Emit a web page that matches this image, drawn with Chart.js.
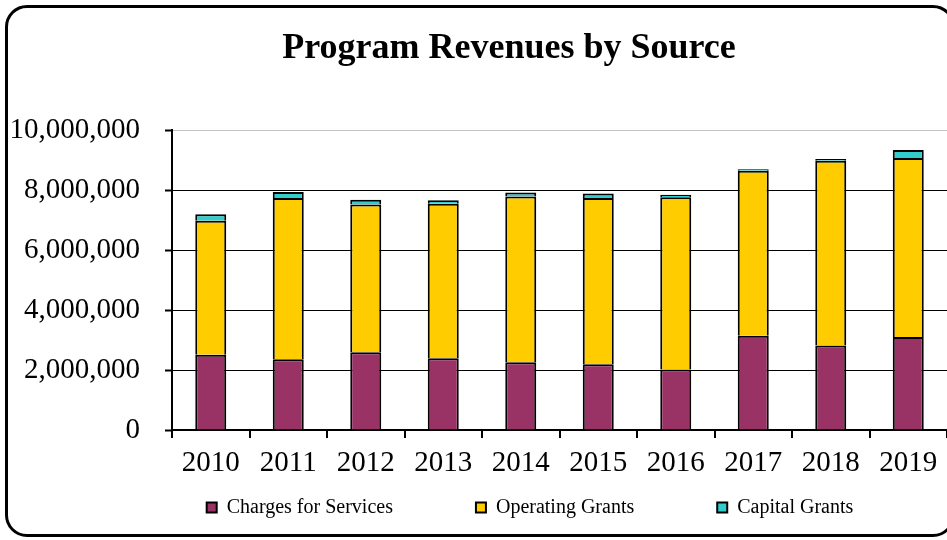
<!DOCTYPE html>
<html>
<head>
<meta charset="utf-8">
<script src="https://cdn.jsdelivr.net/npm/chart.js@4/dist/chart.umd.min.js"></script>
<style>
  html, body { margin:0; padding:0; background:#fff; overflow:hidden; width:947px; height:540px; }
  #frame { position:absolute; left:5px; top:5px; width:950px; height:532px; box-sizing:border-box;
           border:3px solid #000; border-radius:22px; }
  #wrap { position:absolute; left:0; top:0; width:947px; height:540px; }
</style>
</head>
<body>
<div id="frame"></div>
<div id="wrap"><canvas id="c"></canvas></div>
<script>
const years = ['2010','2011','2012','2013','2014','2015','2016','2017','2018','2019'];
const chargesForServices = [2510000, 2360000, 2590000, 2390000, 2260000, 2190000, 2020000, 3140000, 2820000, 3100000];
const operatingGrants    = [4470000, 5380000, 4930000, 5160000, 5530000, 5550000, 5740000, 5510000, 6160000, 5970000];
const capitalGrants      = [ 220000,  200000,  160000,  110000,  130000,  150000,   90000,   50000,   60000,  270000];
const yTicks = [0, 2000000, 4000000, 6000000, 8000000, 10000000];
const seriesNames = ['Charges for Services', 'Operating Grants', 'Capital Grants'];
const chartTitle = 'Program Revenues by Source';

const SERIF = "'Liberation Serif', 'Times New Roman', serif";
Chart.defaults.color = '#000';
Chart.defaults.font.family = SERIF;

const TITLE_CX = 509;
const LEG_CX = 530;
const LEG_TEXT_Y = 507.5;
const LEG_PAD = 83;

const shiftPlugin = {
  id: 'shiftBlocks',
  afterLayout(chart) {
    const t = chart.titleBlock;
    if (t) { const dx = TITLE_CX - (t.left + t.right) / 2; t.left += dx; t.right += dx; }
    const l = chart.legend;
    if (l) {
      const dx = LEG_CX - (l.left + l.right) / 2; l.left += dx; l.right += dx;
      l.top = LEG_TEXT_Y - 10 - LEG_PAD; l.bottom = 540; l.height = l.bottom - l.top;
    }
  }
};

new Chart(document.getElementById('c'), {
  type: 'bar',
  data: {
    labels: years,
    datasets: [
      { label: seriesNames[0], data: chargesForServices, backgroundColor: '#993366', borderColor: '#000', borderWidth: 2 },
      { label: seriesNames[1], data: operatingGrants, backgroundColor: '#FFCC00', borderColor: '#000', borderWidth: 2 },
      { label: seriesNames[2], data: capitalGrants, backgroundColor: '#33CCCC', borderColor: '#000', borderWidth: 2 }
    ]
  },
  options: {
    responsive: true,
    maintainAspectRatio: false,
    animation: false,
    devicePixelRatio: 1,
    datasets: { bar: { barPercentage: 0.4, categoryPercentage: 1 } },
    layout: { padding: { top: 10, left: 12, right: 0, bottom: 0 } },
    plugins: {
      title: {
        display: true, text: chartTitle, color: '#000',
        font: { family: SERIF, size: 36, weight: 'bold', lineHeight: 1.2 },
        padding: { top: 17, bottom: 60 }
      },
      legend: {
        position: 'bottom',
        maxHeight: 60,
        labels: {
          boxWidth: 10, boxHeight: 10, padding: LEG_PAD, color: '#000',
          font: { family: SERIF, size: 20 }
        }
      },
      tooltip: { enabled: false }
    },
    scales: {
      x: {
        stacked: true,
        afterFit: (s) => { s.height = 50; },
        grid: { display: true, drawOnChartArea: false, drawTicks: true, tickLength: 8, color: '#000', lineWidth: 2, offset: true },
        border: { display: true, color: '#000', width: 2 },
        ticks: { color: '#000', padding: 8, font: { family: SERIF, size: 29 }, maxRotation: 0 }
      },
      y: {
        stacked: true,
        min: 0, max: 10000000,
        afterFit: (s) => { s.width = 160; },
        afterBuildTicks: (s) => { s.ticks = yTicks.map(v => ({ value: v })); },
        grid: {
          color: (ctx) => (ctx.tick && ctx.tick.value === 10000000) ? '#c4c4c4' : '#000',
          lineWidth: 1, tickLength: 7, tickColor: '#000', tickWidth: 2
        },
        border: { display: true, color: '#000', width: 2 },
        ticks: {
          color: '#000', padding: 25, font: { family: SERIF, size: 29 },
          callback: (v) => Number(v).toLocaleString('en-US')
        }
      }
    }
  },
  plugins: [shiftPlugin]
});
</script>
</body>
</html>
